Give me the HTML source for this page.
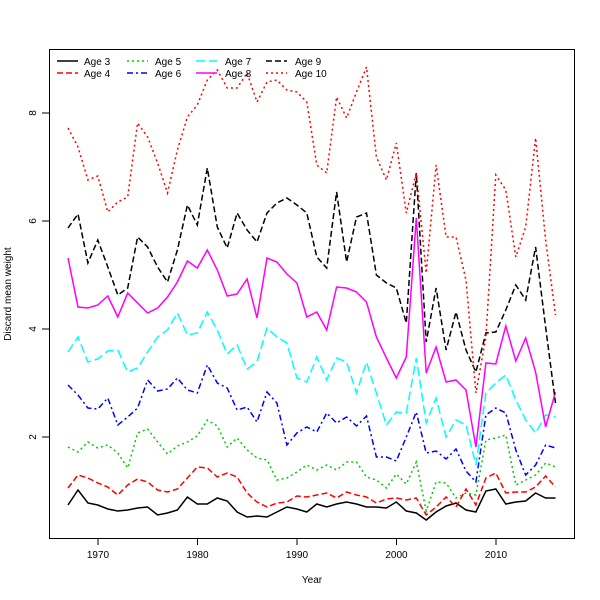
<!DOCTYPE html>
<html><head><meta charset="utf-8"><style>body{margin:0;background:#fff}svg{display:block;font-family:"Liberation Sans",sans-serif}</style></head>
<body>
<svg id="s" width="600" height="600" xmlns="http://www.w3.org/2000/svg">
<rect x="0" y="0" width="600" height="600" fill="#fff"/>
<rect x="49.5" y="49.5" width="525" height="489" fill="none" stroke="#000" stroke-width="1"/>
<g stroke="#000" stroke-width="1">
<line x1="98" y1="538" x2="98" y2="545"/><line x1="197.5" y1="538" x2="197.5" y2="545"/><line x1="297" y1="538" x2="297" y2="545"/><line x1="396.5" y1="538" x2="396.5" y2="545"/><line x1="496" y1="538" x2="496" y2="545"/>
<line x1="42" y1="437" x2="49" y2="437"/><line x1="42" y1="329" x2="49" y2="329"/><line x1="42" y1="221" x2="49" y2="221"/><line x1="42" y1="113" x2="49" y2="113"/>
</g>
<g font-size="10" text-anchor="middle" fill="#000">
<text x="98" y="558">1970</text><text x="197.5" y="558">1980</text><text x="297" y="558">1990</text><text x="396.5" y="558">2000</text><text x="496" y="558">2010</text>
<text transform="translate(36,437) rotate(-90)">2</text><text transform="translate(36,329) rotate(-90)">4</text><text transform="translate(36,221) rotate(-90)">6</text><text transform="translate(36,113) rotate(-90)">8</text>
<text x="312" y="583">Year</text>
<text transform="translate(11,294) rotate(-90)">Discard mean weight</text>
</g>
<g id="lines" fill="none" stroke-width="1.5"></g>
<g font-size="10" fill="#000">
<line x1="57" y1="61" x2="78" y2="61" stroke="#000" stroke-width="1.5"/><text x="84" y="65">Age 3</text>
<line x1="57" y1="73" x2="78" y2="73" stroke="#f00" stroke-width="1.5" stroke-dasharray="6,3"/><text x="84" y="77">Age 4</text>
<line x1="127" y1="61" x2="148" y2="61" stroke="#0c0" stroke-width="1.5" stroke-dasharray="2,3"/><text x="155" y="65">Age 5</text>
<line x1="127" y1="73" x2="148" y2="73" stroke="#00f" stroke-width="1.5" stroke-dasharray="6,3,2,3"/><text x="155" y="77">Age 6</text>
<line x1="196" y1="61" x2="217" y2="61" stroke="#0ff" stroke-width="1.5" stroke-dasharray="9,4"/><text x="225" y="65">Age 7</text>
<line x1="196" y1="73" x2="217" y2="73" stroke="#f0f" stroke-width="1.5"/><text x="225" y="77">Age 8</text>
<line x1="266" y1="61" x2="287" y2="61" stroke="#000" stroke-width="1.5" stroke-dasharray="6,3"/><text x="295" y="65">Age 9</text>
<line x1="266" y1="73" x2="287" y2="73" stroke="#f00" stroke-width="1.5" stroke-dasharray="2,3"/><text x="295" y="77">Age 10</text>
</g>
</svg>
<script>
var S=[
["#000","",[505,490,503,505,509,511,510,508,507,515,513,510,497,504,504,498,501,512,517,516,517,512,507,509,512,504,507,504,502,504,507,507,508,502,511,513,520,512,506,503,510,512,491,489,504,502,501,493,498,498]],
["#f00","6,3",[488,475,478,483,487,495,485,479,482,490,492,489,478,467,468,477,473,477,493,502,507,503,502,496,497,495,493,498,492,495,497,503,499,498,500,498,515,507,497,507,489,505,478,473,493,492,492,487,476,487]],
["#0c0","2,3",[447,452,442,448,445,453,468,433,429,442,454,446,442,436,420,426,447,438,450,458,460,480,478,472,465,470,465,470,462,462,477,480,488,474,484,462,511,482,483,498,493,495,440,438,435,485,480,475,463,467]],
["#00f","6,3,2,3",[385,395,408,409,398,425,417,408,380,391,389,378,390,393,365,383,388,410,407,422,392,403,445,433,427,432,413,423,417,426,416,457,457,461,437,412,453,451,459,449,471,482,415,408,413,450,475,465,445,448]],
["#0ff","9,4",[352,337,362,359,351,350,372,368,352,337,330,313,335,333,312,330,354,345,369,362,328,337,343,378,382,357,380,358,362,393,362,393,425,412,413,358,423,398,437,420,425,465,393,383,375,400,420,433,415,417]],
["#f0f","",[258,307,308,305,296,317,293,303,313,308,297,282,261,268,250,270,296,294,279,318,258,262,274,283,317,312,330,287,288,292,302,337,358,378,357,218,373,347,382,380,390,447,363,364,326,361,338,372,427,392]],
["#000","6,3",[228,214,263,240,267,295,288,237,247,267,282,250,205,225,168,227,248,213,230,242,213,203,198,205,213,257,268,192,262,217,213,275,283,288,323,173,342,288,350,312,350,372,333,332,310,285,300,247,327,403]],
["#f00","2,3",[128,147,180,176,212,202,197,123,137,163,193,150,117,105,80,70,88,88,73,102,82,80,90,92,102,165,173,97,118,92,67,157,180,143,213,173,273,165,237,237,280,393,337,175,190,257,227,138,240,315]]
];
var g=document.getElementById("lines"),h="";
S.forEach(function(s){var p=s[2].map(function(y,i){return (68+i*9.95).toFixed(1)+","+y}).join(" ");
h+='<polyline points="'+p+'" stroke="'+s[0]+'"'+(s[1]?' stroke-dasharray="'+s[1]+'"':'')+'/>';});
g.innerHTML=h;
</script>
</body></html>
